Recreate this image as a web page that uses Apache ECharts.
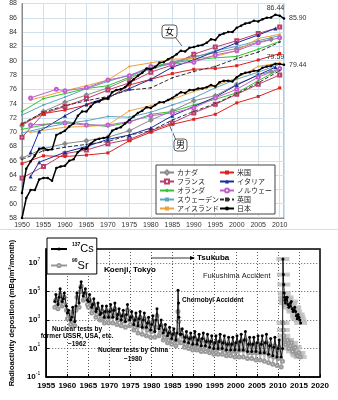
<!DOCTYPE html>
<html><head><meta charset="utf-8">
<script src="https://cdn.jsdelivr.net/npm/echarts@6/dist/echarts.min.js"></script>
<style>html,body{margin:0;padding:0;background:#fff}#c{width:338px;height:400px}</style>
</head><body><div id="c"></div>
<script>
// ================= TOP CHART: life expectancy (female upper group, male lower group) =================
const countryNames = ['カナダ','フランス','オランダ','スウェーデン','アイスランド','米国','イタリア','ノルウェー','英国','日本'];

const canadaF = [[1950,70.9],[1955,72.9],[1960,74.2],[1965,75.2],[1970,76.2],[1975,77.5],[1980,78.9],[1985,79.8],[1990,80.6],[1995,81.1],[2000,81.7],[2005,82.6],[2008,83.0]];
const canadaM = [[1950,66.4],[1955,67.7],[1960,68.4],[1965,68.8],[1970,69.3],[1975,70.2],[1980,71.7],[1985,73.0],[1990,74.4],[1995,75.1],[2000,76.7],[2005,78.0],[2008,78.5]];
const franceF = [[1950,69.3],[1955,72.6],[1960,73.6],[1965,74.7],[1970,75.9],[1975,76.9],[1980,78.4],[1985,79.4],[1990,80.9],[1995,81.9],[2000,82.8],[2005,83.8],[2010,84.7]];
const franceM = [[1950,63.6],[1955,65.2],[1960,67.0],[1965,67.5],[1970,68.4],[1975,69.0],[1980,70.2],[1985,71.3],[1990,72.7],[1995,73.9],[2000,75.3],[2005,76.7],[2010,78.0]];
const nethF = [[1950,72.9],[1955,74.7],[1960,75.4],[1965,76.1],[1970,76.5],[1975,77.7],[1980,79.2],[1985,79.7],[1990,80.1],[1995,80.4],[2000,80.6],[2005,81.6],[2010,82.7]];
const nethM = [[1950,70.4],[1955,71.0],[1960,71.5],[1965,71.1],[1970,70.8],[1975,71.4],[1980,72.5],[1985,72.9],[1990,73.8],[1995,74.6],[2000,75.5],[2005,77.2],[2010,78.8]];
const swedenF = [[1950,72.4],[1955,73.8],[1960,74.9],[1965,76.1],[1970,77.1],[1975,78.0],[1980,78.8],[1985,79.7],[1990,80.4],[1995,81.4],[2000,82.0],[2005,82.8],[2010,83.5]];
const swedenM = [[1950,69.9],[1955,70.6],[1960,71.2],[1965,71.6],[1970,72.2],[1975,72.1],[1980,72.8],[1985,73.8],[1990,74.8],[1995,76.2],[2000,77.4],[2005,78.4],[2010,79.5]];
const icelandF = [[1952,74.5],[1960,75.8],[1965,76.5],[1970,77.3],[1975,79.2],[1980,79.7],[1985,80.2],[1990,80.3],[1995,80.6],[2000,81.4],[2005,83.1],[2010,83.7]];
const icelandM = [[1952,70.0],[1960,70.7],[1965,70.8],[1970,71.0],[1975,73.0],[1980,73.7],[1985,74.6],[1990,75.7],[1995,76.5],[2000,77.6],[2005,79.2],[2010,79.7]];
const usF = [[1950,71.1],[1955,72.6],[1960,73.1],[1965,73.8],[1970,74.7],[1975,76.6],[1980,77.4],[1985,78.2],[1990,78.8],[1995,78.9],[2000,79.3],[2005,80.1],[2010,81.0]];
const usM = [[1950,65.6],[1955,66.7],[1960,66.6],[1965,66.8],[1970,67.1],[1975,68.8],[1980,70.0],[1985,71.1],[1990,71.8],[1995,72.5],[2000,74.1],[2005,75.0],[2010,76.2]];
const italyF = [[1952,67.2],[1954,70.1],[1960,72.3],[1965,73.9],[1970,74.9],[1975,76.1],[1980,77.4],[1985,79.1],[1990,80.1],[1995,81.3],[2000,82.5],[2005,83.6],[2009,84.5]];
const italyM = [[1952,63.8],[1954,65.8],[1960,67.2],[1965,68.0],[1970,69.0],[1975,69.6],[1980,70.6],[1985,72.3],[1990,73.6],[1995,74.9],[2000,76.6],[2005,78.0],[2009,79.1]];
const norwayF = [[1952,74.8],[1958,76.0],[1960,75.8],[1965,76.2],[1970,77.3],[1975,77.9],[1980,79.2],[1985,79.5],[1990,79.8],[1995,80.8],[2000,81.4],[2005,82.5],[2010,83.2]];
const norwayM = [[1952,71.0],[1960,71.3],[1965,71.0],[1970,71.0],[1975,71.5],[1980,72.3],[1985,72.7],[1990,73.4],[1995,74.8],[2000,76.0],[2005,77.7],[2010,78.9]];
const ukF = [[1950,71.2],[1955,72.8],[1960,73.7],[1965,74.4],[1970,75.0],[1975,75.9],[1980,76.2],[1985,77.6],[1990,78.5],[1995,79.2],[2000,80.3],[2005,81.2],[2010,82.6]];
const ukM = [[1950,66.2],[1955,67.4],[1960,67.9],[1965,68.3],[1970,68.7],[1975,69.6],[1980,70.2],[1985,71.7],[1990,72.9],[1995,74.0],[2000,75.4],[2005,76.9],[2010,78.6]];
const japanStartYear = 1950;
const japanF = [61.5,64.9,65.9,66.7,67.7,67.8,67.5,67.6,69.6,69.9,70.2,70.8,71.2,72.3,72.9,72.9,73.6,74.2,74.3,74.7,
  74.7,75.6,75.9,76.0,76.3,76.9,77.4,77.9,78.3,78.9,78.8,79.1,79.7,79.8,80.2,80.5,80.9,81.4,81.3,81.8,
  81.9,82.1,82.2,82.5,83.0,82.9,83.6,83.8,84.0,84.0,84.6,84.9,85.2,85.3,85.6,85.5,85.8,86.0,86.05,86.44,86.30,85.90];
const japanM = [58.0,60.8,61.9,61.9,63.4,63.6,63.6,63.2,65.0,65.2,65.3,66.0,66.2,67.2,67.7,67.7,68.4,68.9,69.1,69.2,
  69.3,70.2,70.5,70.7,71.2,71.7,72.2,72.7,73.0,73.5,73.4,73.8,74.2,74.2,74.5,74.8,75.2,75.6,75.5,75.9,
  75.9,76.1,76.1,76.3,76.6,76.4,77.0,77.2,77.2,77.1,77.7,78.1,78.3,78.4,78.6,78.6,79.0,79.2,79.3,79.59,79.55,79.44];
const japanFLabels = [[2009,'86.44','top'],[2011,'85.90','right']];
const japanMLabels = [[2009,'79.59','top'],[2011,'79.44','right']];

// ================= BOTTOM CHART: radioactivity deposition (log10 of mBq/m2/month) =================
const depoStartYear = 1957;
const winterMonth = 1;   // month of winter sample
const springMonth = 4;   // month of seasonal maximum
const autumnMonth = 10;  // month of seasonal minimum
const csWinterLog10 = [4.3,4.6,4.5,3.5,3.2,4.0,5.3,4.9,4.3,4.1,3.8,3.5,3.6,3.6,3.7,3.4,3.3,3.4,3.2,3.0,
  3.1,3.0,2.8,2.7,3.0,2.6,2.3,2.1,2.0,2.1,2.0,1.8,1.7,1.8,1.6,1.7,1.5,1.5,1.4,1.5,
  1.4,1.3,1.3,1.4,1.5,1.6,1.3,1.3,1.4,1.3,1.4,1.2,1.1,1.0];
const csPeakLog10 = [4.8,5.2,4.9,3.7,3.9,4.9,5.7,5.2,4.8,4.5,4.2,4.0,4.0,4.1,4.2,3.8,3.7,4.1,3.6,3.5,
  3.6,3.5,3.2,3.3,3.8,3.0,2.7,2.5,2.4,5.1,2.4,2.2,2.1,2.2,2.0,2.1,2.0,1.9,1.9,2.0,
  1.9,1.8,1.8,1.9,2.0,2.2,1.8,1.8,1.9,1.9,2.0,1.7,1.8,1.6];
const csLowLog10 = [4.1,4.3,4.0,3.0,2.9,4.2,4.7,4.4,3.9,3.6,3.4,3.2,3.2,3.2,3.1,3.0,2.9,3.0,2.7,2.6,
  2.5,2.5,2.3,2.2,2.4,2.1,1.9,1.7,1.6,2.0,1.5,1.4,1.3,1.3,1.2,1.2,1.1,1.0,1.0,1.0,
  0.9,0.9,0.9,0.9,0.9,0.8,0.8,0.8,0.7,0.7,0.6,0.5,0.4,0.4];
const srWinterLog10 = [3.9,4.3,4.1,3.1,2.9,3.7,5.0,4.5,3.9,3.7,3.4,3.1,3.2,3.2,3.3,3.0,2.9,3.0,2.7,2.5,
  2.6,2.5,2.3,2.2,2.5,2.1,1.8,1.6,1.5,1.6,1.4,1.3,1.2,1.2,1.1,1.1,1.0,0.9,0.9,1.0,
  0.9,0.8,0.8,0.8,0.9,0.9,0.7,0.7,0.7,0.7,0.7,0.5,0.4,0.3];
const srPeakLog10 = [4.4,4.8,4.6,3.4,3.6,4.6,5.4,4.9,4.4,4.1,3.8,3.6,3.6,3.7,3.8,3.4,3.3,3.7,3.2,3.1,
  3.2,3.1,2.8,2.9,3.3,2.6,2.3,2.1,2.0,3.6,1.9,1.8,1.7,1.7,1.6,1.6,1.5,1.4,1.4,1.5,
  1.4,1.3,1.3,1.4,1.5,1.6,1.3,1.3,1.3,1.4,1.4,1.2,1.2,1.1];
const srLowLog10 = [3.8,4.0,3.7,2.7,2.6,3.9,4.4,4.1,3.5,3.2,3.0,2.8,2.8,2.8,2.7,2.6,2.5,2.6,2.3,2.1,
  2.0,1.9,1.8,1.8,1.9,1.6,1.4,1.3,1.2,1.4,1.1,1.0,0.9,0.9,0.8,0.8,0.7,0.6,0.6,0.6,
  0.5,0.5,0.4,0.4,0.4,0.3,0.3,0.2,0.2,0.1,0.0,-0.1,-0.2,-0.3];
const chernobylCs = [[1986.42,4.2],[1986.5,3.2]];
const chernobylSr = [[1986.42,2.9],[1986.5,2.3]];
const fukushimaCs = [[2011.1,1.0],[2011.2,7.3],[2011.3,6.2],[2011.4,5.5],[2011.5,4.9],[2011.6,4.6],[2011.7,4.4],
  [2011.8,4.2],[2011.9,4.4],[2012.0,4.5],[2012.2,4.6],[2012.4,4.1],[2012.6,3.9],[2012.8,4.0],[2013.0,4.2],[2013.2,4.3],
  [2013.4,3.8],[2013.6,3.6],[2013.8,3.7],[2014.0,3.9],[2014.2,3.6],[2014.4,3.3],[2014.6,3.1],[2014.8,3.4],[2015.0,3.2],[2015.2,3.0],[2015.4,2.8]];
const fukushimaSr = [[2011.1,0.1],[2011.2,2.8],[2011.3,2.3],[2011.4,1.9],[2011.6,1.6],[2011.8,1.3],[2012.0,1.5],[2012.3,1.6],[2012.6,1.0],
  [2012.9,1.2],[2013.2,1.4],[2013.5,0.8],[2013.8,1.0],[2014.1,1.1],[2014.4,0.6],[2014.7,0.5],[2015.0,0.7],[2015.3,0.4]];

function seasonal(winter, peaks, lows, extra, post) {
  const out = [];
  peaks.forEach((v, i) => {
    const y = depoStartYear + i;
    out.push([y + (winterMonth - 0.5) / 12, winter[i]]);
    out.push([y + (springMonth - 0.5) / 12, v]);
    out.push([y + (autumnMonth - 0.5) / 12, lows[i]]);
  });
  return out.concat(extra, post).sort((a, b) => a[0] - b[0]);
}
const csData = seasonal(csWinterLog10, csPeakLog10, csLowLog10, chernobylCs, fukushimaCs);
const srData = seasonal(srWinterLog10, srPeakLog10, srLowLog10, chernobylSr, fukushimaSr);

// ================= BUILD =================
const chart = echarts.init(document.getElementById('c'));
const styleDefs = {
  'カナダ':      {f: canadaF, m: canadaM, color: '#8a8a8a', symbol: 'emptyDiamond', size: 3},
  'フランス':    {f: franceF, m: franceM, color: '#b8406a', symbol: 'emptyRect', size: 3},
  'オランダ':    {f: nethF, m: nethM, color: '#33c233', symbol: 'diamond', size: 3},
  'スウェーデン': {f: swedenF, m: swedenM, color: '#5aa6c4', symbol: 'rect', size: 2},
  'アイスランド': {f: icelandF, m: icelandM, color: '#eea23a', symbol: 'rect', size: 2},
  '米国':        {f: usF, m: usM, color: '#e0201c', symbol: 'rect', size: 3},
  'イタリア':    {f: italyF, m: italyM, color: '#1c2c9c', symbol: 'triangle', size: 4},
  'ノルウェー':  {f: norwayF, m: norwayM, color: '#c060cc', symbol: 'emptyCircle', size: 3},
  '英国':        {f: ukF, m: ukM, color: '#333333', symbol: 'rect', size: 1.5, dash: [4, 2]},
};
const series = [];
Object.keys(styleDefs).forEach(name => {
  const d = styleDefs[name];
  [d.f, d.m].forEach(arr => series.push({
    type: 'line', name, xAxisIndex: 0, yAxisIndex: 0, data: arr,
    symbol: d.symbol, symbolSize: d.size, showSymbol: true,
    lineStyle: {color: d.color, width: 1, type: d.dash || 'solid'},
    itemStyle: {color: d.color, borderWidth: 0.8}, z: 2
  }));
});
function mkLabels(list) {
  return {
    symbol: 'circle', symbolSize: 0,
    label: {show: true, fontSize: 7, color: '#333', fontFamily: 'Liberation Sans', formatter: p => p.value},
    data: list.map(l => ({coord: [l[0], +l[1]], value: l[1], label: {position: l[2], distance: l[2] === 'right' ? 5 : 3}}))
  };
}
[[japanF, japanFLabels], [japanM, japanMLabels]].forEach(([arr, labs]) => series.push({
  type: 'line', name: '日本', xAxisIndex: 0, yAxisIndex: 0,
  data: arr.map((v, i) => [japanStartYear + i, v]),
  symbol: 'circle', symbolSize: 2.5, showSymbol: true,
  lineStyle: {color: '#000', width: 1.5}, itemStyle: {color: '#000'}, z: 5,
  markPoint: mkLabels(labs)
}));

// bottom
series.push({
  type: 'scatter', name: 'band', xAxisIndex: 1, yAxisIndex: 1,
  data: fukushimaCs.filter(p => p[0] >= 2011.2).concat(fukushimaSr.filter(p => p[0] >= 2011.2)),
  symbol: 'rect', symbolSize: [13, 4], itemStyle: {color: '#bcbcbc'}, z: 1, silent: true
});
series.push({
  type: 'line', name: 'Sr90', xAxisIndex: 1, yAxisIndex: 1, data: srData,
  symbol: 'emptyCircle', symbolSize: 3, showSymbol: true,
  lineStyle: {color: '#999', width: 0.8}, itemStyle: {color: '#999', borderWidth: 0.9}, z: 2
});
series.push({
  type: 'line', name: 'Cs137', xAxisIndex: 1, yAxisIndex: 1, data: csData,
  symbol: 'circle', symbolSize: 3, showSymbol: true,
  lineStyle: {color: '#000', width: 0.9}, itemStyle: {color: '#000'}, z: 3
});

const latin = 'Liberation Sans';
const yearFmt = v => String(v);
const option = {
  animation: false,
  grid: [
    {left: 22, top: 2, width: 262, height: 216, show: true, borderColor: '#8a8a8a', borderWidth: 1, backgroundColor: '#fff'},
    {left: 40, top: 249, width: 280, height: 128, show: true, borderColor: '#000', borderWidth: 1.5}
  ],
  xAxis: [
    {type: 'value', gridIndex: 0, min: 1950, max: 2011, interval: 5,
     axisLine: {onZero: false, lineStyle: {color: '#8a8a8a'}}, axisTick: {show: false},
     axisLabel: {fontSize: 7, color: '#333', fontFamily: latin, margin: 4, showMaxLabel: false, formatter: yearFmt},
     splitLine: {lineStyle: {color: '#cfe0ee', width: 1}}},
    {type: 'value', gridIndex: 1, min: 1955, max: 2020, interval: 5,
     axisLine: {onZero: false, lineStyle: {color: '#000', width: 1.5}}, axisTick: {inside: true, length: 3, lineStyle: {color: '#000'}},
     axisLabel: {fontSize: 8, color: '#000', fontWeight: 'bold', fontFamily: latin, margin: 5, formatter: yearFmt},
     splitLine: {lineStyle: {color: '#333', type: [1, 2], width: 0.8}}}
  ],
  yAxis: [
    {type: 'value', gridIndex: 0, min: 58, max: 88, interval: 2,
     axisLine: {show: true, onZero: false, lineStyle: {color: '#8a8a8a'}}, axisTick: {show: false},
     axisLabel: {fontSize: 7, color: '#333', fontFamily: latin, margin: 5},
     splitLine: {lineStyle: {color: '#cfe0ee', width: 1}}},
    {type: 'value', gridIndex: 1, min: -1, max: 8, interval: 2,
     name: 'Radioactivity deposition (mBq/m²/month)', nameLocation: 'middle', nameGap: 27, nameRotate: 90,
     nameTextStyle: {fontSize: 7.5, fontWeight: 'bold', color: '#000', fontFamily: latin},
     axisLine: {show: true, onZero: false, lineStyle: {color: '#000', width: 1.5}}, axisTick: {inside: true, length: 3, lineStyle: {color: '#000'}},
     axisLabel: {margin: 6, formatter: v => v === 8 ? '' : '{b|10}{s|' + v + '}',
       rich: {b: {fontSize: 8, fontWeight: 'bold', fontFamily: latin, color: '#000', lineHeight: 12},
              s: {fontSize: 5, fontFamily: latin, color: '#000', verticalAlign: 'top', lineHeight: 6}}},
     splitLine: {lineStyle: {color: '#333', type: [1, 2], width: 0.8}}}
  ],
  legend: [
    {data: countryNames, orient: 'vertical', left: 156, top: 165, height: 45, itemGap: 0,
     itemWidth: 14, itemHeight: 5, padding: [3, 3, 1, 3],
     backgroundColor: '#fff', borderColor: '#444', borderWidth: 1,
     textStyle: {fontSize: 7, lineHeight: 9, color: '#222', fontFamily: 'Noto Sans CJK JP', padding: [0, 0, 0, -2]}},
    {data: ['Cs137', 'Sr90'], orient: 'vertical', left: 47, top: 238, itemGap: 4,
     itemWidth: 16, itemHeight: 4, padding: [4, 3, 3, 3],
     backgroundColor: '#fff', borderColor: '#000', borderWidth: 1,
     formatter: n => n === 'Cs137' ? '{s|137}{e|Cs}' : '{s|90}{e|Sr}',
     textStyle: {rich: {s: {fontSize: 5, fontWeight: 'bold', fontFamily: latin, color: '#000', verticalAlign: 'top', lineHeight: 6},
                        e: {fontSize: 11, fontFamily: latin, color: '#000', lineHeight: 14}}}}
  ],
  graphic: [
    {type: 'line', shape: {x1: 0, y1: 229.5, x2: 338, y2: 229.5}, style: {stroke: '#dddddd', lineWidth: 1}},
    // 女 callout
    {type: 'line', shape: {x1: 175, y1: 37, x2: 182, y2: 46}, style: {stroke: '#333', lineWidth: 0.8}},
    {type: 'rect', shape: {x: 162, y: 25, width: 15, height: 13, r: 3}, style: {fill: '#fff', stroke: '#333', lineWidth: 0.8}, z: 10},
    {type: 'text', x: 169.5, y: 31.5, z: 11, style: {text: '女', font: '9px "Noto Sans CJK JP"', fill: '#000', textAlign: 'center', textVerticalAlign: 'middle'}},
    // 男 callout
    {type: 'line', shape: {x1: 176, y1: 140, x2: 168, y2: 122}, style: {stroke: '#333', lineWidth: 0.8}},
    {type: 'rect', shape: {x: 174, y: 139, width: 13, height: 12, r: 3}, style: {fill: '#fff', stroke: '#333', lineWidth: 0.8}, z: 10},
    {type: 'text', x: 180.5, y: 145, z: 11, style: {text: '男', font: '9px "Noto Sans CJK JP"', fill: '#000', textAlign: 'center', textVerticalAlign: 'middle'}},
    // bottom annotations
    {type: 'line', shape: {x1: 151, y1: 258, x2: 194, y2: 258}, style: {stroke: '#000', lineWidth: 0.8}, z: 10},
    {type: 'polygon', shape: {points: [[195, 258], [190, 256], [190, 260]]}, style: {fill: '#000'}, z: 10},
    {type: 'text', x: 197, y: 258, z: 10, style: {text: 'Tsukuba', font: 'bold 8px "Liberation Sans"', fill: '#000', textVerticalAlign: 'middle'}},
    {type: 'text', x: 104, y: 270, z: 10, style: {text: 'Koenji, Tokyo', font: 'bold 8px "Liberation Sans"', fill: '#000', textVerticalAlign: 'middle'}},
    {type: 'text', x: 203, y: 276, z: 10, style: {text: 'Fukushima Accident', font: '7.5px "Liberation Sans"', fill: '#222', textVerticalAlign: 'middle'}},
    {type: 'text', x: 182, y: 300, z: 10, style: {text: 'Chernobyl Accident', font: 'bold 6.5px "Liberation Sans"', fill: '#000', textVerticalAlign: 'middle'}},
    {type: 'text', x: 77, y: 325, z: 10, style: {text: 'Nuclear tests by\nformer USSR, USA, etc.\n~1962', font: 'bold 6.5px "Liberation Sans"', lineHeight: 7.5, fill: '#000', textAlign: 'center'}},
    {type: 'text', x: 133, y: 346, z: 10, style: {text: 'Nuclear tests by China\n~1980', font: 'bold 6.5px "Liberation Sans"', lineHeight: 8.5, fill: '#000', textAlign: 'center'}}
  ],
  series
};
chart.setOption(option);
</script></body></html>
